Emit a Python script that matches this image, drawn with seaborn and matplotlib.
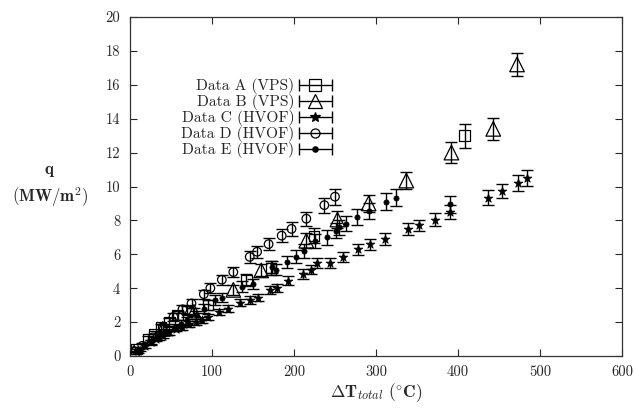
import numpy as np
import pandas as pd
import matplotlib
matplotlib.use("Agg")
import matplotlib.pyplot as plt
import seaborn as sns
from matplotlib.lines import Line2D
from matplotlib.legend_handler import HandlerLine2D, HandlerTuple

# ---- data ----
a_x = [8, 22, 30, 38, 48, 58, 70, 95, 142, 172, 224, 408]
a_y = [0.4, 1.0, 1.3, 1.7, 2.0, 2.4, 2.7, 3.0, 4.5, 5.2, 7.1, 13.0]
a_e = [0.15, 0.2, 0.2, 0.2, 0.25, 0.25, 0.25, 0.3, 0.35, 0.4, 0.45, 0.7]

b_x = [5, 40, 78, 126, 160, 215, 253, 291, 337, 392, 443, 472]
b_y = [0.2, 1.6, 2.6, 3.9, 5.05, 6.8, 8.05, 9.0, 10.35, 12.0, 13.4, 17.2]
b_e = [0.1, 0.2, 0.25, 0.3, 0.35, 0.45, 0.5, 0.5, 0.5, 0.6, 0.65, 0.7]

c_x = [10, 18, 25, 32, 40, 48, 56, 64, 72, 80, 88, 95, 108, 120, 134, 146,
       156, 171, 179, 193, 211, 221, 228, 244, 260, 278, 293, 311, 339, 353,
       372, 390, 436, 454, 473, 484]
c_y = [0.3, 0.6, 0.85, 1.0, 1.2, 1.4, 1.6, 1.7, 1.9, 2.0, 2.1, 2.3, 2.6, 2.8,
       3.15, 3.3, 3.45, 3.9, 4.0, 4.45, 4.85, 5.1, 5.5, 5.5, 5.85, 6.3, 6.6,
       6.9, 7.5, 7.7, 8.05, 8.5, 9.35, 9.75, 10.2, 10.5]
c_e = [0.1, 0.1, 0.12, 0.12, 0.15, 0.15, 0.15, 0.15, 0.17, 0.17, 0.18, 0.18,
       0.2, 0.2, 0.22, 0.22, 0.22, 0.25, 0.25, 0.27, 0.28, 0.28, 0.3, 0.3, 0.3,
       0.32, 0.33, 0.33, 0.35, 0.35, 0.37, 0.4, 0.42, 0.42, 0.45, 0.45]

d_x = [15, 28, 40, 53, 64, 75, 90, 98, 112, 126, 146, 155, 169, 185, 197, 215,
       237, 250]
d_y = [0.6, 1.1, 1.7, 2.3, 2.75, 3.1, 3.65, 4.0, 4.5, 4.95, 5.85, 6.15, 6.6,
       7.1, 7.5, 8.1, 8.9, 9.4]
d_e = [0.15, 0.17, 0.2, 0.22, 0.23, 0.25, 0.27, 0.28, 0.3, 0.3, 0.35, 0.35,
       0.37, 0.4, 0.4, 0.42, 0.45, 0.47]

e_x = [12, 25, 35, 45, 55, 62, 70, 80, 90, 104, 112, 136, 150, 173, 178, 192,
       202, 212, 226, 240, 251, 255, 263, 277, 291, 312, 325, 390]
e_y = [0.4, 0.8, 1.1, 1.4, 1.7, 1.9, 2.1, 2.4, 2.8, 3.3, 3.45, 4.1, 4.25,
       5.25, 5.1, 5.55, 5.85, 6.2, 6.8, 7.0, 7.4, 7.6, 7.8, 8.2, 8.55, 9.1,
       9.35, 8.95]
e_e = [0.12, 0.15, 0.17, 0.18, 0.2, 0.2, 0.22, 0.23, 0.25, 0.28, 0.28, 0.3,
       0.32, 0.35, 0.35, 0.37, 0.38, 0.4, 0.42, 0.43, 0.45, 0.45, 0.45, 0.47,
       0.48, 0.5, 0.5, 0.5]

labels = ["Data A (VPS)", "Data B (VPS)", "Data C (HVOF)", "Data D (HVOF)",
          "Data E (HVOF)"]
x_ticks = [0, 100, 200, 300, 400, 500, 600]
y_ticks = [0, 2, 4, 6, 8, 10, 12, 14, 16, 18, 20]

series = [(a_x, a_y, a_e), (b_x, b_y, b_e), (c_x, c_y, c_e), (d_x, d_y, d_e),
          (e_x, e_y, e_e)]
frames = []
for lab, (xs, ys, es) in zip(labels, series):
    frames.append(pd.DataFrame({"x": xs, "y": ys, "err": es, "series": lab}))
df = pd.concat(frames, ignore_index=True)

styles = {
    "Data A (VPS)": dict(marker="s", s=55, facecolor="none", edgecolor="k", linewidth=0.9),
    "Data B (VPS)": dict(marker="^", s=110, facecolor="none", edgecolor="k", linewidth=0.9),
    "Data C (HVOF)": dict(marker="*", s=45, facecolor="k", edgecolor="k", linewidth=0.5),
    "Data D (HVOF)": dict(marker="o", s=38, facecolor="none", edgecolor="k", linewidth=0.9),
    "Data E (HVOF)": dict(marker="o", s=14, facecolor="k", edgecolor="k", linewidth=0.5),
}
legend_ms = {
    "Data A (VPS)": ("s", 8, "none"),
    "Data B (VPS)": ("^", 10, "none"),
    "Data C (HVOF)": ("*", 7, "k"),
    "Data D (HVOF)": ("o", 6.5, "none"),
    "Data E (HVOF)": ("o", 3.8, "k"),
}

sns.set_style("ticks")
plt.rcParams["font.family"] = ["cmr10", "DejaVu Serif"]
plt.rcParams["mathtext.fontset"] = "cm"
plt.rcParams["axes.formatter.use_mathtext"] = True

fig = plt.figure(figsize=(6.34, 4.12), dpi=100)
ax = fig.add_axes([130 / 634, 1 - 356 / 412, 492 / 634, 339 / 412])

for lab in labels:
    sub = df[df["series"] == lab]
    ax.errorbar(sub["x"], sub["y"], yerr=sub["err"], fmt="none", ecolor="k",
                elinewidth=1.0, capsize=4, capthick=1.0, zorder=2)
    sns.scatterplot(data=sub, x="x", y="y", ax=ax, legend=False, zorder=3,
                    **styles[lab])

ax.set_xlim(0, 600)
ax.set_ylim(0, 20)
ax.set_xticks(x_ticks)
ax.set_yticks(y_ticks)
ax.set_xticklabels([str(v) for v in x_ticks])
ax.set_yticklabels([str(v) for v in y_ticks])
ax.tick_params(direction="in", length=5, width=0.8, top=True, right=True,
               labelsize=10.5, pad=7)
for sp in ax.spines.values():
    sp.set_linewidth(0.9)
    sp.set_color("#333333")

ax.set_xlabel(r"$\mathbf{\Delta T}_{total}\ \mathbf{(^{\circ}C)}$",
              fontsize=12.5, labelpad=1)
ax.set_ylabel(r"$\mathbf{q}$" + "\n" + r"$\mathbf{(MW/m^{2})}$", rotation=0,
              fontsize=12, va="center", ha="center", linespacing=1.35)
ax.yaxis.set_label_coords(-0.163, 0.5)

handles = []
hmap = {}
for lab in labels:
    mk, ms, fc = legend_ms[lab]
    cap = Line2D([0], [0], color="k", lw=1.0, marker="|", markersize=8,
                 markeredgewidth=1.0)
    pt = Line2D([0], [0], color="k", lw=0, marker=mk, markersize=ms,
                markerfacecolor=fc, markeredgecolor="k", markeredgewidth=0.9)
    hmap[cap] = HandlerLine2D(numpoints=2, marker_pad=0)
    hmap[pt] = HandlerLine2D(numpoints=1)
    handles.append((cap, pt))
hmap[tuple] = HandlerTuple(ndivide=1, pad=0)
leg = ax.legend(handles, labels, handler_map=hmap,
                markerfirst=False, frameon=False, loc="upper right",
                bbox_to_anchor=(0.41, 0.82), fontsize=11.2, handlelength=2.1,
                handletextpad=0.3, labelspacing=0.0, borderaxespad=0.0,
                borderpad=0.0)

fig.savefig("out.png", dpi=100)
